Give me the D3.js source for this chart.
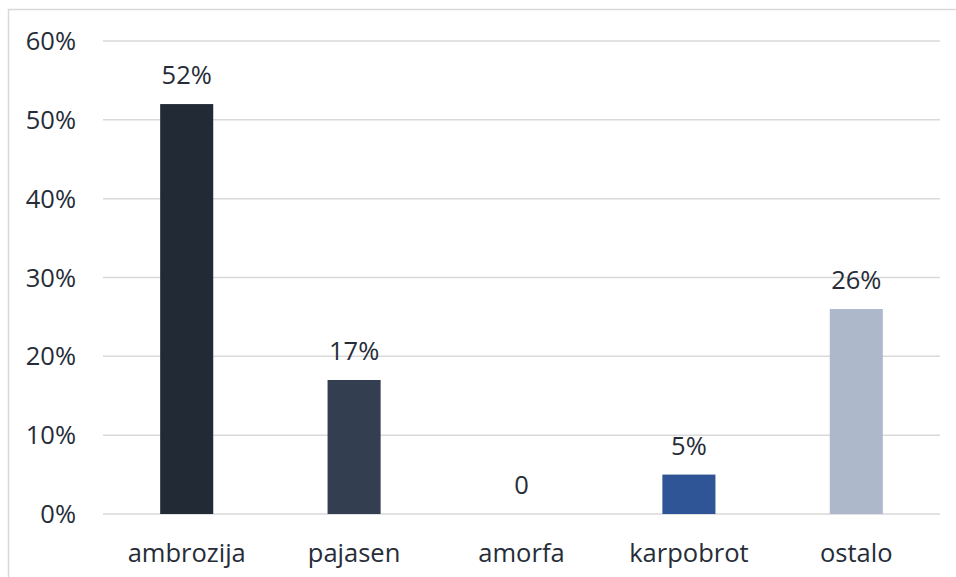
<!DOCTYPE html>
<html>
<head>
<meta charset="utf-8">
<script src="https://cdn.jsdelivr.net/npm/d3@7"></script>
<style>
  body { margin: 0; background: #fff; }
  svg { display: block; font-family: "Open Sans", sans-serif; }
</style>
</head>
<body>
<svg width="956" height="577"></svg>
<script>
// chart data
const categories = ['ambrozija', 'pajasen', 'amorfa', 'karpobrot', 'ostalo'];
const values = [0.52, 0.17, 0, 0.05, 0.26];
const valueLabels = ['52%', '17%', '0', '5%', '26%'];
const barColors = ['#222a35', '#333f50', '#44546a', '#2f5597', '#adb9ca'];
const yTicks = [0, 0.1, 0.2, 0.3, 0.4, 0.5, 0.6];

const svg = d3.select('svg');
const textColor = '#262d38';
const fontSize = 25.5;

// outer border (chart area is cropped on the right and bottom)
svg.append('rect')
  .attr('x', 8.5).attr('y', 9.5)
  .attr('width', 1000).attr('height', 1000)
  .attr('fill', 'none')
  .attr('stroke', '#d9d9d9')
  .attr('stroke-width', 1.5);

const x = d3.scaleBand()
  .domain(categories)
  .range([103, 940])
  .paddingInner(0.683)
  .paddingOuter(0.3415);

const y = d3.scaleLinear()
  .domain([0, 0.6])
  .range([514, 41]);

// gridlines
svg.append('g')
  .selectAll('line')
  .data(yTicks)
  .enter()
  .append('line')
  .attr('x1', 103)
  .attr('x2', 940)
  .attr('y1', d => y(d))
  .attr('y2', d => y(d))
  .attr('stroke', '#d9d9d9')
  .attr('stroke-width', 1.5);

// y tick labels
svg.append('g')
  .selectAll('text')
  .data(yTicks)
  .enter()
  .append('text')
  .attr('x', 76)
  .attr('y', d => y(d) + 9)
  .attr('text-anchor', 'end')
  .attr('font-size', fontSize)
  .attr('fill', textColor)
  .text(d => d3.format('.0%')(d));

// bars
svg.append('g')
  .selectAll('rect')
  .data(values)
  .enter()
  .append('rect')
  .attr('x', (d, i) => x(categories[i]))
  .attr('y', d => y(d))
  .attr('width', x.bandwidth())
  .attr('height', d => y(0) - y(d))
  .attr('fill', (d, i) => barColors[i]);

// value labels
svg.append('g')
  .selectAll('text')
  .data(values)
  .enter()
  .append('text')
  .attr('x', (d, i) => x(categories[i]) + x.bandwidth() / 2)
  .attr('y', d => y(d) - 20)
  .attr('text-anchor', 'middle')
  .attr('font-size', fontSize)
  .attr('fill', textColor)
  .text((d, i) => valueLabels[i]);

// category labels
svg.append('g')
  .selectAll('text')
  .data(categories)
  .enter()
  .append('text')
  .attr('x', d => x(d) + x.bandwidth() / 2)
  .attr('y', 562)
  .attr('text-anchor', 'middle')
  .attr('font-size', fontSize)
  .attr('fill', textColor)
  .text(d => d);
</script>
</body>
</html>
